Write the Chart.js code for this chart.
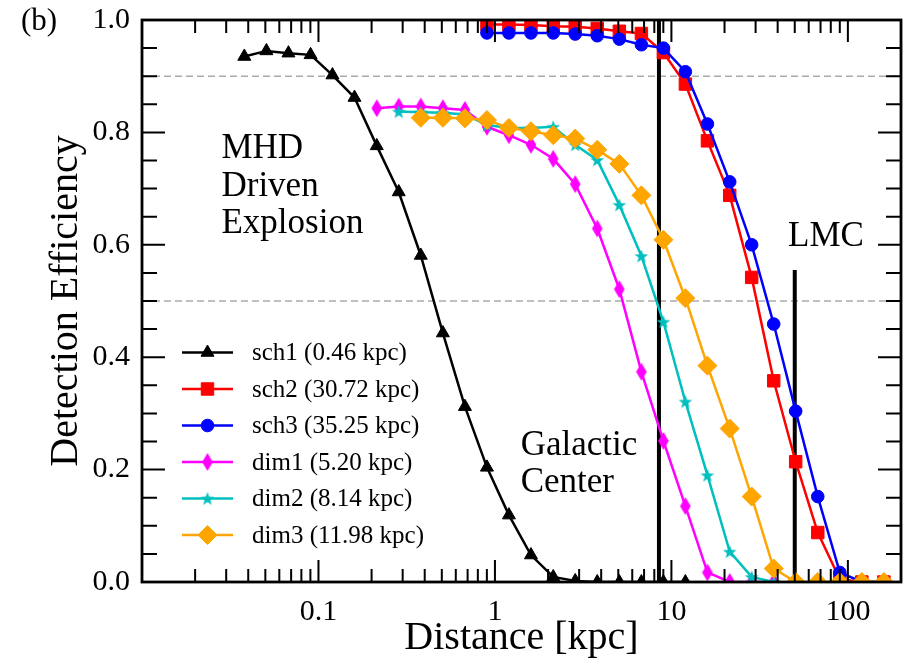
<!DOCTYPE html>
<html lang="en">
<head>
<meta charset="UTF-8" />
<title>Detection Efficiency vs Distance</title>
<style>
  html,body{margin:0;padding:0;background:#fff;}
  #wrap{width:903px;height:666px;}
</style>
<script src="https://cdn.jsdelivr.net/npm/chart.js@4.4.1/dist/chart.umd.min.js"></script>
</head>
<body>
<div id="wrap"><canvas id="chart" width="903" height="666"></canvas></div>
<script>
/* ====== data ====== */
const dSch1   = [0.038, 0.0507, 0.0676, 0.0902, 0.120, 0.160, 0.214, 0.285, 0.380, 0.507, 0.676, 0.901, 1.20, 1.60, 2.14, 2.85, 3.80, 5.07, 6.76, 9.01, 12.0];
const effSch1 = [0.935, 0.945, 0.941, 0.938, 0.902, 0.862, 0.776, 0.694, 0.581, 0.443, 0.312, 0.204, 0.119, 0.048, 0.009, 0.002, 0, 0, 0, 0, 0];

const dSch    = [0.901, 1.20, 1.60, 2.14, 2.85, 3.80, 5.07, 6.76, 9.01, 12.0, 16.0, 21.4, 28.5, 38.0, 50.6, 67.5, 90.0, 120, 160];
const effSch2 = [0.992, 0.992, 0.991, 0.989, 0.988, 0.985, 0.980, 0.976, 0.942, 0.886, 0.785, 0.688, 0.542, 0.358, 0.214, 0.088, 0.005, 0, 0];
const effSch3 = [0.977, 0.977, 0.977, 0.977, 0.975, 0.972, 0.966, 0.956, 0.950, 0.908, 0.815, 0.712, 0.600, 0.459, 0.304, 0.152, 0.017, 0, 0];

const dDim1   = [0.214, 0.285, 0.380, 0.507, 0.676, 0.901, 1.20, 1.60, 2.14, 2.85, 3.80, 5.07, 6.76, 9.01, 12.0, 16.0, 21.4, 28.5, 38.0];
const effDim1 = [0.843, 0.846, 0.846, 0.843, 0.840, 0.810, 0.795, 0.778, 0.753, 0.708, 0.629, 0.521, 0.374, 0.251, 0.135, 0.017, 0, 0, 0];

const dDim2   = [0.285, 0.380, 0.507, 0.676, 0.901, 1.20, 1.60, 2.14, 2.85, 3.80, 5.07, 6.76, 9.01, 12.0, 16.0, 21.4, 28.5, 38.0];
const effDim2 = [0.837, 0.836, 0.835, 0.832, 0.813, 0.808, 0.808, 0.810, 0.778, 0.751, 0.671, 0.580, 0.463, 0.321, 0.190, 0.054, 0.009, 0];

const dDim3   = [0.380, 0.507, 0.676, 0.901, 1.20, 1.60, 2.14, 2.85, 3.80, 5.07, 6.76, 9.01, 12.0, 16.0, 21.4, 28.5, 38.0, 50.6, 67.5, 90.0, 120, 160];
const effDim3 = [0.826, 0.826, 0.825, 0.822, 0.808, 0.802, 0.795, 0.789, 0.769, 0.744, 0.688, 0.609, 0.505, 0.385, 0.273, 0.152, 0.024, 0, 0, 0, 0, 0];

const labels  = ['sch1 (0.46 kpc)', 'sch2 (30.72 kpc)', 'sch3 (35.25 kpc)', 'dim1 (5.20 kpc)', 'dim2 (8.14 kpc)', 'dim3 (11.98 kpc)'];

const xTicks  = [0.1, 1, 10, 100];
const xTickLabels = ['0.1', '1', '10', '100'];
const yTicks  = [0, 0.2, 0.4, 0.6, 0.8, 1.0];

const refLevels = [0.9, 0.5];        // dashed horizontal guides
const gcDist  = 8.5;                  // Galactic Center, kpc
const lmcDist = 50;                   // LMC, kpc
const lmcTop  = 0.555;

const notes = [                       // [text, x (kpc), y (efficiency baseline)]
  ['MHD', 0.0282, 0.755], ['Driven', 0.0282, 0.686], ['Explosion', 0.0282, 0.621],
  ['LMC', 45.8, 0.598],
  ['Galactic', 1.40, 0.226], ['Center', 1.40, 0.160]
];

/* ====== markers ====== */
const FONT = '"Liberation Serif", "Times New Roman", serif';
const C = {black:'#000000', red:'#ff0000', blue:'#0000ff', magenta:'#ff00ff', cyan:'#00bfbf', orange:'#ffa500'};

function starCanvas(color){
  const c = document.createElement('canvas'); c.width = 16; c.height = 16;
  const g = c.getContext('2d'); g.fillStyle = color; g.beginPath();
  for(let i=0;i<10;i++){
    const r = i%2 ? 3.0 : 7.2, a = -Math.PI/2 + i*Math.PI/5;
    g.lineTo(8 + r*Math.cos(a), 8.6 + r*Math.sin(a));
  }
  g.closePath(); g.fill(); return c;
}
function thinDiamond(color){
  const c = document.createElement('canvas'); c.width = 12; c.height = 20;
  const g = c.getContext('2d'); g.fillStyle = color; g.beginPath();
  g.moveTo(6,1); g.lineTo(11.3,10); g.lineTo(6,19); g.lineTo(0.7,10); g.closePath(); g.fill(); return c;
}

function mk(label, xs, ys, color, style, r, order){
  return {label, data: xs.map((x,i)=>({x, y: ys[i]})), borderColor: color, backgroundColor: color,
    borderWidth: 2.5, pointStyle: style, pointRadius: r, pointHoverRadius: r,
    pointBackgroundColor: color, pointBorderColor: color, pointBorderWidth: 1, order};
}

const datasets = [
  mk(labels[0], dSch1, effSch1, C.black,  'triangle', 7.5, 6),
  mk(labels[1], dSch,  effSch2, C.red,    'rect', 8.8, 5),
  mk(labels[2], dSch,  effSch3, C.blue,   'circle', 6.3, 4),
  mk(labels[3], dDim1, effDim1, C.magenta, thinDiamond(C.magenta), 7, 3),
  mk(labels[4], dDim2, effDim2, C.cyan,   starCanvas(C.cyan), 7, 2),
  mk(labels[5], dDim3, effDim3, C.orange, 'rectRot', 9.5, 1)
];

/* ====== decorations ====== */
const guides = {
  id: 'guides',
  beforeDatasetsDraw(chart){
    const {ctx, chartArea:a, scales:{x, y}} = chart;
    ctx.save();
    ctx.strokeStyle = '#aaaaaa'; ctx.lineWidth = 1.5; ctx.setLineDash([7,4]);
    refLevels.forEach(v => { const py = y.getPixelForValue(v); ctx.beginPath(); ctx.moveTo(a.left, py); ctx.lineTo(a.right, py); ctx.stroke(); });
    ctx.setLineDash([]); ctx.strokeStyle = '#000'; ctx.lineWidth = 4;
    let px = x.getPixelForValue(gcDist);
    ctx.beginPath(); ctx.moveTo(px, a.top); ctx.lineTo(px, a.bottom); ctx.stroke();
    px = x.getPixelForValue(lmcDist);
    ctx.beginPath(); ctx.moveTo(px, y.getPixelForValue(lmcTop)); ctx.lineTo(px, a.bottom); ctx.stroke();
    ctx.restore();
  },
  afterDraw(chart){
    const {ctx, chartArea:a, scales:{x, y}} = chart;
    ctx.save();
    // frame
    ctx.strokeStyle = '#000'; ctx.lineWidth = 2.8;
    ctx.strokeRect(a.left, a.top, a.right - a.left, a.bottom - a.top);
    // inward ticks
    ctx.lineWidth = 2;
    const xt = [];
    for(let e=-2;e<=2;e++) for(let m=1;m<=9;m++) xt.push(m*Math.pow(10,e));
    xt.forEach(v => {
      const px = x.getPixelForValue(v);
      if(px <= a.left + 1 || px >= a.right - 1) return;
      const L = (Math.abs(Math.log10(v) - Math.round(Math.log10(v))) < 1e-6) ? 22 : 13;
      ctx.beginPath(); ctx.moveTo(px, a.bottom); ctx.lineTo(px, a.bottom - L);
      ctx.moveTo(px, a.top); ctx.lineTo(px, a.top + L); ctx.stroke();
    });
    for(let k=1;k<20;k++){
      const v = k*0.05, py = y.getPixelForValue(v);
      const L = (k % 4 === 0) ? 23 : 15;
      ctx.beginPath(); ctx.moveTo(a.left, py); ctx.lineTo(a.left + L, py);
      ctx.moveTo(a.right, py); ctx.lineTo(a.right - L, py); ctx.stroke();
    }
    // annotations
    ctx.fillStyle = '#000'; ctx.font = '35px ' + FONT; ctx.textBaseline = 'alphabetic'; ctx.textAlign = 'left';
    notes.forEach(([t, vx, vy]) => ctx.fillText(t, x.getPixelForValue(vx), y.getPixelForValue(vy)));
    // panel tag
    ctx.font = '31px ' + FONT; ctx.fillText('(b)', 21, 30);
    // legend
    ctx.font = '25px ' + FONT; ctx.textBaseline = 'middle';
    chart.data.datasets.forEach((ds, i) => {
      const ly = 352.5 + i*36.5, lx = a.left + 40;
      ctx.strokeStyle = ds.borderColor; ctx.lineWidth = ds.borderWidth;
      ctx.beginPath(); ctx.moveTo(lx, ly); ctx.lineTo(lx + 51, ly); ctx.stroke();
      ctx.fillStyle = ds.pointBackgroundColor; ctx.strokeStyle = ds.pointBorderColor; ctx.lineWidth = 1;
      Chart.helpers.drawPoint(ctx, {pointStyle: ds.pointStyle, radius: ds.pointRadius, rotation: 0, borderWidth: 1}, lx + 25.5, ly);
      ctx.fillStyle = '#000';
      ctx.fillText(ds.label, lx + 70, ly + 1);
    });
    ctx.restore();
  }
};

/* ====== chart ====== */
new Chart(document.getElementById('chart').getContext('2d'), {
  type: 'line',
  data: {datasets},
  options: {
    responsive: false, animation: false, devicePixelRatio: 1,
    layout: {autoPadding: false, padding: {left: 0, right: 2, top: 20, bottom: 0}},
    plugins: {legend: {display: false}, tooltip: {enabled: false}},
    scales: {
      x: {
        type: 'logarithmic', min: 0.01, max: 200,
        grid: {display: false, drawTicks: false}, border: {display: false},
        afterBuildTicks: s => { s.ticks = xTicks.map(v => ({value: v})); },
        afterFit: s => { s.height = 84; s.paddingLeft = 0; s.paddingRight = 0; },
        ticks: {color: '#000', font: {family: FONT, size: 30}, padding: 12, maxRotation: 0, autoSkip: false,
                callback: v => xTickLabels[xTicks.indexOf(v)]},
        title: {display: true, text: 'Distance [kpc]', color: '#000', font: {family: FONT, size: 40}, padding: {top: 0, bottom: 4}}
      },
      y: {
        min: 0, max: 1,
        grid: {display: false, drawTicks: false}, border: {display: false},
        afterBuildTicks: s => { s.ticks = yTicks.map(v => ({value: v})); },
        afterFit: s => { s.width = 142; s.paddingTop = 0; s.paddingBottom = 0; },
        ticks: {color: '#000', font: {family: FONT, size: 30}, padding: 12, callback: v => v.toFixed(1)},
        title: {display: true, text: 'Detection Efficiency', color: '#000', font: {family: FONT, size: 40}, padding: {top: 42, bottom: 0}}
      }
    }
  },
  plugins: [guides]
});
</script>
</body>
</html>
